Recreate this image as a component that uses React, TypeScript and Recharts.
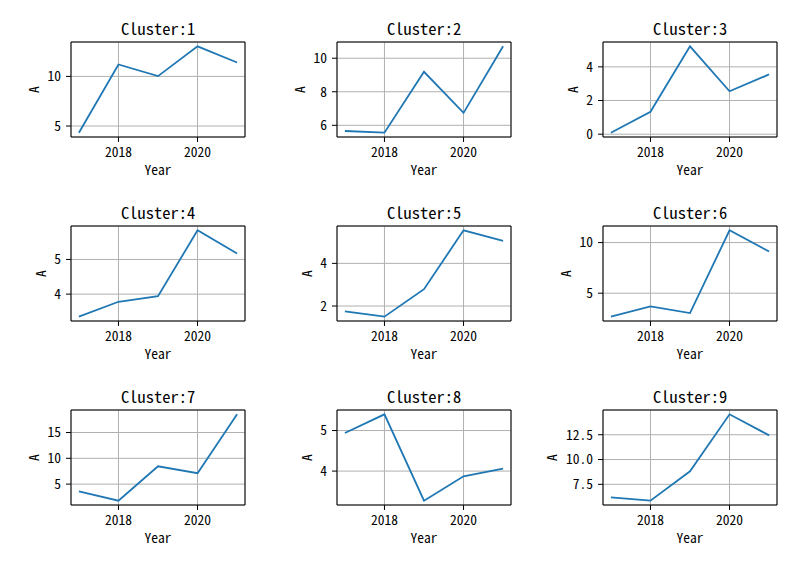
import React from "react";
import { LineChart, Line, XAxis, YAxis, CartesianGrid, ReferenceArea } from "recharts";

const years = [2017, 2018, 2019, 2020, 2021];
const xTicks = [2018, 2020];

const cluster1 = [4.33, 11.2, 10.03, 13.03, 11.4];
const cluster2 = [5.66, 5.56, 9.19, 6.74, 10.71];
const cluster3 = [0.09, 1.33, 5.22, 2.55, 3.55];
const cluster4 = [3.35, 3.78, 3.94, 5.84, 5.17];
const cluster5 = [1.75, 1.5, 2.79, 5.55, 5.05];
const cluster6 = [2.68, 3.69, 3.04, 11.21, 9.12];
const cluster7 = [3.58, 1.79, 8.46, 7.12, 18.52];
const cluster8 = [4.94, 5.4, 3.27, 3.87, 4.06];
const cluster9 = [6.19, 5.85, 8.81, 14.56, 12.44];

const yTicks1 = [5, 10];
const yTicks2 = [6, 8, 10];
const yTicks3 = [0, 2, 4];
const yTicks4 = [4, 5];
const yTicks5 = [2, 4];
const yTicks6 = [5, 10];
const yTicks7 = [5, 10, 15];
const yTicks8 = [4, 5];
const yTicks9 = [7.5, 10, 12.5];

const yLabels1 = ["5", "10"];
const yLabels2 = ["6", "8", "10"];
const yLabels3 = ["0", "2", "4"];
const yLabels4 = ["4", "5"];
const yLabels5 = ["2", "4"];
const yLabels6 = ["5", "10"];
const yLabels7 = ["5", "10", "15"];
const yLabels8 = ["4", "5"];
const yLabels9 = ["7.5", "10.0", "12.5"];

const titles = ["Cluster:1", "Cluster:2", "Cluster:3", "Cluster:4", "Cluster:5", "Cluster:6", "Cluster:7", "Cluster:8", "Cluster:9"];

const FONT = '"Noto Sans Mono CJK SC", "Noto Sans CJK SC", "DejaVu Sans", sans-serif';
const COL_LEFT = [71, 337, 603];
const ROW_TOP = [42, 226, 410];
const PW = 174;
const PH = 95;
const YW = 72;
const XH = 44;
const MT = 4;
const MR = 6;
const TICK_FS = 13.5;

const panels = [
  { title: titles[0], values: cluster1, ticks: yTicks1, labels: yLabels1 },
  { title: titles[1], values: cluster2, ticks: yTicks2, labels: yLabels2 },
  { title: titles[2], values: cluster3, ticks: yTicks3, labels: yLabels3 },
  { title: titles[3], values: cluster4, ticks: yTicks4, labels: yLabels4 },
  { title: titles[4], values: cluster5, ticks: yTicks5, labels: yLabels5 },
  { title: titles[5], values: cluster6, ticks: yTicks6, labels: yLabels6 },
  { title: titles[6], values: cluster7, ticks: yTicks7, labels: yLabels7 },
  { title: titles[7], values: cluster8, ticks: yTicks8, labels: yLabels8 },
  { title: titles[8], values: cluster9, ticks: yTicks9, labels: yLabels9 },
];

function padDomain(vals: number[]): [number, number] {
  const mn = Math.min(...vals);
  const mx = Math.max(...vals);
  const p = (mx - mn) * 0.05;
  return [mn - p, mx + p];
}

const xDomain: [number, number] = [years[0] - (years[4] - years[0]) * 0.05, years[4] + (years[4] - years[0]) * 0.05];

function makeYLabel(dist: number) {
  return (props: any) => {
    const vb = props && props.viewBox ? props.viewBox : props;
    const x = (vb.x ?? 0) + (vb.width ?? YW) - dist;
    const y = (vb.y ?? 0) + (vb.height ?? PH) / 2;
    return (
      <text
        x={x}
        y={y}
        transform={`rotate(-90, ${x}, ${y})`}
        textAnchor="middle"
        dominantBaseline="central"
        fontSize={TICK_FS}
        fontFamily={FONT}
        fill="#000"
      >
        A
      </text>
    );
  };
}

function Panel({ idx }: { idx: number }) {
  const p = panels[idx];
  const col = idx % 3;
  const row = Math.floor(idx / 3);
  const left = COL_LEFT[col];
  const top = ROW_TOP[row];
  const data = years.map((yr, i) => ({ year: yr, v: p.values[i] }));
  const yDomain = padDomain(p.values);
  const maxLen = Math.max(...p.labels.map((s) => s.length));
  const dist = 24 + 7 * maxLen;
  const fmt = (v: number) => {
    const i = p.ticks.indexOf(v);
    return i >= 0 ? p.labels[i] : String(v);
  };
  return (
    <>
      <div
        style={{
          position: "absolute",
          left: left,
          width: PW,
          top: top - 24,
          height: 20,
          lineHeight: "20px",
          textAlign: "center",
          fontSize: 16.5,
          fontFamily: FONT,
          color: "#000",
          whiteSpace: "nowrap",
        }}
      >
        {p.title}
      </div>
      <div style={{ position: "absolute", left: left - YW, top: top - MT }}>
        <LineChart
          width={YW + PW + MR}
          height={MT + PH + XH}
          data={data}
          margin={{ top: MT, right: MR, bottom: 0, left: 0 }}
        >
          <CartesianGrid stroke="#b0b0b0" strokeWidth={1} />
          <XAxis
            dataKey="year"
            type="number"
            domain={xDomain}
            ticks={xTicks}
            allowDataOverflow
            height={XH}
            tickSize={5}
            tickMargin={5}
            axisLine={false}
            tickLine={{ stroke: "#000" }}
            tick={{ fontSize: TICK_FS, fill: "#000", fontFamily: FONT }}
            label={{ value: "Year", position: "insideBottom", offset: 6, fontSize: TICK_FS, fill: "#000", fontFamily: FONT }}
          />
          <YAxis
            type="number"
            domain={yDomain}
            ticks={p.ticks}
            allowDataOverflow
            width={YW}
            tickSize={5}
            tickMargin={5}
            axisLine={false}
            tickLine={{ stroke: "#000" }}
            tickFormatter={fmt}
            tick={{ fontSize: TICK_FS, fill: "#000", fontFamily: FONT }}
            label={{ value: "A", content: makeYLabel(dist) }}
          />
          <Line
            type="linear"
            dataKey="v"
            stroke="#1f77b4"
            strokeWidth={1.8}
            dot={false}
            isAnimationActive={false}
          />
          <ReferenceArea
            x1={xDomain[0]}
            x2={xDomain[1]}
            y1={yDomain[0]}
            y2={yDomain[1]}
            fill="none"
            fillOpacity={0}
            stroke="#000"
            strokeWidth={1}
            strokeOpacity={1}
            ifOverflow="visible"
          />
        </LineChart>
      </div>
    </>
  );
}

export default function App() {
  return (
    <div
      style={{
        position: "absolute",
        left: 0,
        top: 0,
        width: 800,
        height: 570,
        background: "#fff",
        fontFamily: FONT,
      }}
    >
      {panels.map((_, i) => (
        <Panel key={i} idx={i} />
      ))}
    </div>
  );
}
